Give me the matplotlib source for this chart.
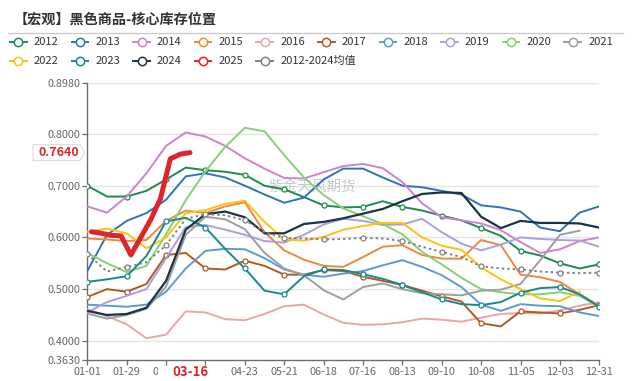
import numpy as np
import matplotlib
matplotlib.use("Agg")
import matplotlib.pyplot as plt
from matplotlib.lines import Line2D
from matplotlib.patches import Rectangle, Polygon

plt.rcParams['font.family'] = ['Noto Sans CJK SC', 'DejaVu Sans']

TITLE = "【宏观】黑色商品-核心库存位置"
WATERMARK = "紫金天风期货"

# day-of-year sampling (every two weeks)
DAYS = list(range(0, 365, 14))
X_TICK_DAYS = list(range(0, 365, 28))
# 03-26 is hidden behind the axis-pointer label in the reference
X_TICK_LABELS = ["01-01", "01-29", "02-26", "", "04-23", "05-21", "06-18",
                 "07-16", "08-13", "09-10", "10-08", "11-05", "12-03", "12-31"]
Y_TICKS = [0.363, 0.4, 0.5, 0.6, 0.7, 0.8, 0.898]

y2012 = [0.700, 0.679, 0.679, 0.690, 0.712, 0.735, 0.730, 0.727, 0.721, 0.700, 0.693, 0.678, 0.662, 0.658,
         0.659, 0.670, 0.659, 0.652, 0.642, 0.633, 0.618, 0.603, 0.574, 0.565, 0.550, 0.540, 0.548]
y2013 = [0.535, 0.605, 0.632, 0.647, 0.673, 0.718, 0.724, 0.716, 0.700, 0.683, 0.667, 0.677, 0.712, 0.733,
         0.733, 0.716, 0.700, 0.697, 0.690, 0.683, 0.662, 0.658, 0.650, 0.619, 0.612, 0.648, 0.660]
y2014 = [0.660, 0.648, 0.679, 0.724, 0.777, 0.803, 0.795, 0.777, 0.753, 0.733, 0.715, 0.714, 0.726, 0.738,
         0.742, 0.734, 0.707, 0.666, 0.639, 0.633, 0.627, 0.614, 0.591, 0.570, 0.577, 0.593, 0.600]
y2015 = [0.598, 0.596, 0.593, 0.595, 0.632, 0.652, 0.647, 0.660, 0.668, 0.610, 0.575, 0.557, 0.545, 0.543,
         0.562, 0.582, 0.585, 0.566, 0.559, 0.559, 0.595, 0.585, 0.528, 0.523, 0.514, 0.490, 0.468]
y2016 = [0.461, 0.448, 0.432, 0.405, 0.412, 0.457, 0.455, 0.442, 0.440, 0.452, 0.467, 0.470, 0.451, 0.435,
         0.431, 0.432, 0.436, 0.443, 0.441, 0.437, 0.445, 0.452, 0.454, 0.453, 0.459, 0.468, 0.475]
y2017 = [0.485, 0.500, 0.495, 0.510, 0.566, 0.570, 0.540, 0.538, 0.555, 0.545, 0.528, 0.528, 0.537, 0.535,
         0.524, 0.516, 0.508, 0.497, 0.486, 0.476, 0.434, 0.428, 0.457, 0.455, 0.453, 0.460, 0.469]
y2018 = [0.470, 0.468, 0.466, 0.470, 0.495, 0.540, 0.574, 0.578, 0.577, 0.560, 0.538, 0.528, 0.524, 0.530,
         0.535, 0.546, 0.556, 0.543, 0.527, 0.504, 0.470, 0.458, 0.471, 0.468, 0.467, 0.455, 0.448]
y2019 = [0.455, 0.475, 0.487, 0.500, 0.560, 0.620, 0.624, 0.615, 0.605, 0.593, 0.590, 0.605, 0.625, 0.636,
         0.632, 0.624, 0.625, 0.636, 0.610, 0.588, 0.575, 0.586, 0.600, 0.597, 0.595, 0.594, 0.582]
y2020 = [0.570, 0.550, 0.533, 0.545, 0.606, 0.672, 0.728, 0.775, 0.812, 0.805, 0.759, 0.716, 0.682, 0.656,
         0.641, 0.626, 0.606, 0.572, 0.548, 0.522, 0.500, 0.494, 0.490, 0.490, 0.494, 0.487, 0.465]
y2021 = [0.453, 0.443, 0.450, 0.462, 0.505, 0.605, 0.640, 0.635, 0.616, 0.570, 0.540, 0.527, 0.498, 0.480,
         0.504, 0.511, 0.500, 0.492, 0.490, 0.488, 0.497, 0.499, 0.510, 0.556, 0.605, 0.613, None]
y2022 = [0.611, 0.617, 0.608, 0.579, 0.600, 0.647, 0.653, 0.665, 0.671, 0.630, 0.596, 0.594, 0.601, 0.615,
         0.622, 0.628, 0.628, 0.600, 0.584, 0.576, 0.542, 0.519, 0.500, 0.482, 0.477, 0.495, None]
y2023 = [0.514, 0.519, 0.525, 0.564, 0.631, 0.638, 0.619, 0.578, 0.540, 0.497, 0.490, 0.525, 0.538, 0.537,
         0.529, 0.520, 0.508, 0.494, 0.480, 0.471, 0.469, 0.475, 0.493, 0.502, 0.504, 0.490, 0.466]
y2024 = [0.458, 0.450, 0.452, 0.464, 0.516, 0.615, 0.645, 0.650, 0.639, 0.608, 0.608, 0.626, 0.630, 0.637,
         0.646, 0.655, 0.670, 0.684, 0.687, 0.686, 0.640, 0.618, 0.632, 0.628, 0.628, 0.627, 0.619]
y_avg = [0.568, 0.534, 0.543, 0.552, 0.585, 0.636, 0.645, 0.643, 0.633, 0.610, 0.599, 0.598, 0.596, 0.597,
         0.599, 0.598, 0.593, 0.582, 0.572, 0.562, 0.544, 0.540, 0.538, 0.534, 0.532, 0.531, 0.532]

DAYS_2025 = [3, 10, 17, 24, 31, 38, 45, 52, 59, 66, 73]
y2025 = [0.611, 0.608, 0.604, 0.603, 0.566, 0.600, 0.634, 0.675, 0.752, 0.761, 0.764]

POINTER_DAY = 73
POINTER_DAY_LABEL = "03-16"
POINTER_VALUE = 0.764

SERIES = [
    ("2012", y2012, '#1e8a50', True),
    ("2013", y2013, '#2f74b8', False),
    ("2014", y2014, '#cf82cc', False),
    ("2015", y2015, '#f0883a', False),
    ("2016", y2016, '#eba5a5', False),
    ("2017", y2017, '#b4581f', True),
    ("2018", y2018, '#5b9bd5', False),
    ("2019", y2019, '#ab9fe0', False),
    ("2020", y2020, '#86cf74', False),
    ("2021", y2021, '#9e9e9e', False),
    ("2022", y2022, '#ffc20e', False),
    ("2023", y2023, '#15898c', True),
    ("2024", y2024, '#1b3344', False),
]
C2025 = '#e0242b'
CAVG = '#808080'

W, H = 632, 381
fig = plt.figure(figsize=(W / 100, H / 100), dpi=100)
fig.patch.set_facecolor('white')


def fx(px):
    return px / W


def fy(py):
    return 1 - py / H


L, R, T, B = 87.3, 599.3, 83.3, 360.0
ax = fig.add_axes([fx(L), fy(B), (R - L) / W, (B - T) / H])

for name, vals, col, mk in SERIES:
    v = np.array([np.nan if a is None else a for a in vals], dtype=float)
    kw = {}
    if mk:
        kw = dict(marker='o', markevery=2, ms=3.6, mfc='white', mec=col, mew=0.9)
    lw = 1.6 if name == "2024" else 1.4
    ax.plot(DAYS, v, color=col, lw=lw, zorder=3, **kw)

ax.plot(DAYS, y_avg, color=CAVG, lw=1.4, ls=(0, (1.2, 1.6)), marker='o', markevery=2,
        ms=3.6, mfc='white', mec=CAVG, mew=0.9, zorder=4)
ax.plot(DAYS_2025, y2025, color=C2025, lw=3.6, solid_capstyle='round',
        solid_joinstyle='round', zorder=6)

ax.set_xlim(0, 364)
ax.set_ylim(Y_TICKS[0], Y_TICKS[-1])
ax.set_yticks(Y_TICKS)
ax.set_yticklabels([f"{t:.4f}" for t in Y_TICKS])
ax.set_xticks(X_TICK_DAYS)
ax.set_xticklabels(X_TICK_LABELS)
for t in Y_TICKS[1:]:
    ax.axhline(t, color='#e3e3e3', lw=1.0, zorder=1)
for s in ['top', 'right']:
    ax.spines[s].set_visible(False)
for s in ['left', 'bottom']:
    ax.spines[s].set_color('#6e6e6e')
    ax.spines[s].set_linewidth(1.0)
ax.tick_params(axis='both', colors='#6e6e6e', labelcolor='#666666', labelsize=7.8,
               length=3.6, width=0.9, pad=1.2)

ax.text(fx(312), fy(187), WATERMARK, transform=fig.transFigure, fontsize=10.5,
        color='#c8c8c8', ha='center', va='center', zorder=1)

# title and separator
fig.text(fx(14), fy(19.5), TITLE, fontsize=10.2, fontweight='bold', color='#333333',
         ha='left', va='center')
fig.add_artist(Line2D([fx(8), fx(623)], [fy(33.3), fy(33.3)], transform=fig.transFigure,
                      color='#c8c8c8', lw=0.9))

# legend
legend_items = [(n, c) for n, _, c, _ in SERIES] + [("2025", C2025), ("2012-2024均值", CAVG)]
for i, (name, col) in enumerate(legend_items):
    row, colno = divmod(i, 10)
    cx = 18.3 + 61.6 * colno
    cy = 42.3 + 18.7 * row
    fig.add_artist(Line2D([fx(cx - 8.3), fx(cx + 8.3)], [fy(cy), fy(cy)],
                          transform=fig.transFigure, color=col, lw=1.4))
    fig.add_artist(Line2D([fx(cx)], [fy(cy)], transform=fig.transFigure, marker='o',
                          ms=6.0, mfc='white', mec=col, mew=1.1, ls='none'))
    fig.text(fx(cx + 15.5), fy(cy), name, fontsize=8, color='#333333', ha='left', va='center')

# axis pointer labels
px_x = L + (R - L) * POINTER_DAY / 364
fig.add_artist(Rectangle((fx(px_x - 32), fy(381)), 64 / W, 15 / H, transform=fig.transFigure,
                         fc='white', ec='none', zorder=5))
fig.text(fx(px_x), fy(371.5), POINTER_DAY_LABEL, color=C2025, fontsize=9.5, fontweight='bold',
         ha='center', va='center', zorder=6)

py_y = B - (B - T) * (POINTER_VALUE - Y_TICKS[0]) / (Y_TICKS[-1] - Y_TICKS[0])
tag = [(33, py_y - 8), (80, py_y - 8), (84.5, py_y), (80, py_y + 8), (33, py_y + 8)]
fig.add_artist(Polygon([(fx(a), fy(b)) for a, b in tag], closed=True, transform=fig.transFigure,
                       fc='white', ec='#dddddd', lw=0.8, zorder=5))
fig.text(fx(59), fy(py_y - 0.5), f"{POINTER_VALUE:.4f}", color=C2025, fontsize=9, fontweight='bold',
         ha='center', va='center', zorder=6)

fig.savefig("out.png", dpi=100, facecolor='white')
